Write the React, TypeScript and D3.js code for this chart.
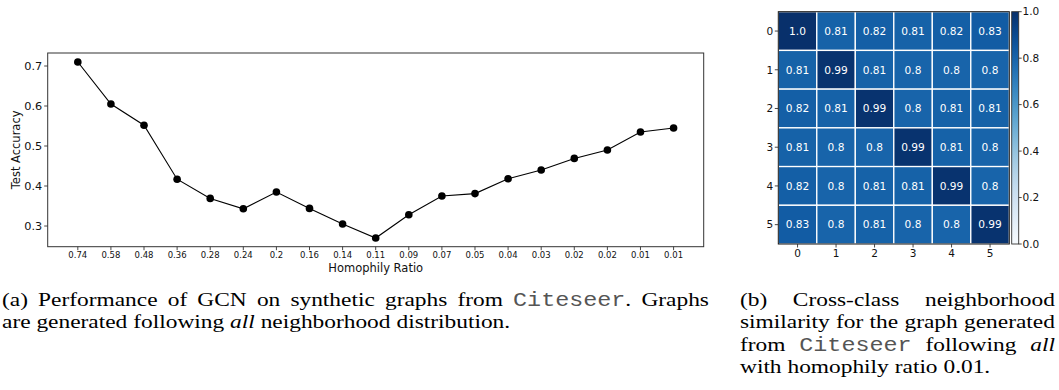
import React, { useEffect, useRef } from "react";
import * as d3 from "d3";

// ---------- data ----------
const homophilyLabels = ["0.74", "0.58", "0.48", "0.36", "0.28", "0.24", "0.2", "0.16", "0.14", "0.11", "0.09", "0.07", "0.05", "0.04", "0.03", "0.02", "0.02", "0.01", "0.01"];
const testAccuracy = [0.71, 0.605, 0.552, 0.417, 0.369, 0.343, 0.385, 0.344, 0.305, 0.27, 0.328, 0.375, 0.381, 0.418, 0.44, 0.469, 0.49, 0.535, 0.545];
const accuracyTicks = [0.3, 0.4, 0.5, 0.6, 0.7];

const classLabels = ["0", "1", "2", "3", "4", "5"];
const similarity = [
  [1.0, 0.81, 0.82, 0.81, 0.82, 0.83],
  [0.81, 0.99, 0.81, 0.8, 0.8, 0.8],
  [0.82, 0.81, 0.99, 0.8, 0.81, 0.81],
  [0.81, 0.8, 0.8, 0.99, 0.81, 0.8],
  [0.82, 0.8, 0.81, 0.81, 0.99, 0.8],
  [0.83, 0.8, 0.81, 0.8, 0.8, 0.99],
];
const colorbarTicks = [0, 0.2, 0.4, 0.6, 0.8, 1.0];

type Run = { t: string; s?: "i" | "m" };
type Word = string | Run[];
const captionALines: Word[][] = [
  ["(a)", "Performance", "of", "GCN", "on", "synthetic", "graphs", "from", [{ t: "Citeseer", s: "m" }, { t: "." }], "Graphs"],
  ["are", "generated", "following", [{ t: "all", s: "i" }], "neighborhood", "distribution."],
];
const captionBLines: Word[][] = [
  ["(b)", "Cross-class", "neighborhood"],
  ["similarity", "for", "the", "graph", "generated"],
  ["from", [{ t: "Citeseer", s: "m" }], "following", [{ t: "all", s: "i" }]],
  ["with", "homophily", "ratio", "0.01."],
];

// ---------- layout ----------
const W = 1059, H = 390;
const LC = { l: 47.7, r: 703.7, t: 53, b: 246.7 };
const HM = { l: 778.3, r: 1009.3, t: 11.7, b: 244 };
const CB = { l: 1011.7, r: 1018.7 };
const SANS = "'DejaVu Sans', sans-serif";
const SERIF = "'Liberation Serif', 'Times New Roman', serif";
const MONO = "'Liberation Mono', 'Courier New', monospace";

const fmt = (v: number) => (Number.isInteger(v) ? v.toFixed(1) : String(v));

export default function App() {
  const capRef = useRef<SVGGElement>(null);

  const x = d3.scalePoint<number>().domain(d3.range(testAccuracy.length)).range([LC.l, LC.r]).padding(0.91);
  const y = d3.scaleLinear().domain([0.2483, 0.7325]).range([LC.b, LC.t]);
  const line = d3.line<number>().x((_, i) => x(i) as number).y((d) => y(d));

  const xb = d3.scaleBand<string>().domain(classLabels).range([HM.l, HM.r]);
  const yb = d3.scaleBand<string>().domain(classLabels).range([HM.t, HM.b]);
  const color = (v: number) => d3.interpolateBlues(v);
  const cbY = d3.scaleLinear().domain([0, 1]).range([HM.b, HM.t]);
  const gradStops = d3.range(0, 1.0001, 0.05);

  useEffect(() => {
    const g = d3.select(capRef.current);
    g.selectAll("*").remove();
    const FS = 19.5, SX = 1.2;
    const paragraphs = [
      { x: 2, width: 707, baselines: [306, 328.3], lines: captionALines },
      { x: 740, width: 315, baselines: [306, 328.3, 350.5, 372.7], lines: captionBLines },
    ];
    paragraphs.forEach((p) => {
      p.lines.forEach((ln, li) => {
        const justify = li < p.lines.length - 1;
        const nodes = ln.map((word) => {
          const runs: Run[] = typeof word === "string" ? [{ t: word }] : word;
          const t = g.append("text").attr("font-size", FS).attr("font-family", SERIF).attr("fill", "#000");
          runs.forEach((r) => {
            const ts = t.append("tspan").text(r.t);
            if (r.s === "i") ts.attr("font-style", "italic");
            if (r.s === "m") ts.attr("font-family", MONO).attr("fill", "#555");
          });
          return t;
        });
        const widths = nodes.map((n) => (n.node() as SVGTextElement).getComputedTextLength() * SX);
        const total = d3.sum(widths);
        const gap = justify ? (p.width - total) / (nodes.length - 1) : FS * 0.25 * SX;
        let cx = p.x;
        nodes.forEach((n, i) => {
          n.attr("transform", `translate(${cx},${p.baselines[li]}) scale(${SX},1)`);
          cx += widths[i] + gap;
        });
      });
    });
  }, []);

  return (
    <div style={{ position: "absolute", left: 0, top: 0 }}>
      <svg width={W} height={H} viewBox={`0 0 ${W} ${H}`} style={{ display: "block", background: "#fff" }}>
        <defs>
          <linearGradient id="cbGrad" x1="0" y1="1" x2="0" y2="0">
            {gradStops.map((s) => (
              <stop key={s} offset={s} stopColor={color(s)} />
            ))}
          </linearGradient>
        </defs>

        {/* ---------- line chart ---------- */}
        <path d={line(testAccuracy) || ""} fill="none" stroke="#000" strokeWidth={1.1} />
        {testAccuracy.map((v, i) => (
          <circle key={i} cx={x(i)} cy={y(v)} r={3.8} fill="#000" />
        ))}
        <rect x={LC.l} y={LC.t} width={LC.r - LC.l} height={LC.b - LC.t} fill="none" stroke="#333" strokeWidth={1} />
        {accuracyTicks.map((t) => (
          <g key={t}>
            <line x1={LC.l - 3.5} x2={LC.l} y1={y(t)} y2={y(t)} stroke="#333" strokeWidth={0.9} />
            <text x={LC.l - 5.5} y={y(t)} dy="0.36em" textAnchor="end" fontFamily={SANS} fontSize={11.3} fill="#111">
              {t.toFixed(1)}
            </text>
          </g>
        ))}
        {homophilyLabels.map((lab, i) => (
          <g key={i}>
            <line x1={x(i)} x2={x(i)} y1={LC.b} y2={LC.b + 3.5} stroke="#333" strokeWidth={0.9} />
            <text x={x(i)} y={258.3} textAnchor="middle" fontFamily={SANS} fontSize={8.5} fill="#111">
              {lab}
            </text>
          </g>
        ))}
        <text x={(LC.l + LC.r) / 2} y={271.5} textAnchor="middle" fontFamily={SANS} fontSize={11.5} fill="#111">
          Homophily Ratio
        </text>
        <text transform={`translate(19.5,${(LC.t + LC.b) / 2}) rotate(-90)`} textAnchor="middle" fontFamily={SANS} fontSize={11.5} fill="#111">
          Test Accuracy
        </text>

        {/* ---------- heatmap ---------- */}
        {similarity.map((row, ri) =>
          row.map((v, ci) => (
            <g key={`${ri}-${ci}`}>
              <rect
                x={xb(classLabels[ci])}
                y={yb(classLabels[ri])}
                width={xb.bandwidth()}
                height={yb.bandwidth()}
                fill={color(v)}
                stroke="#fff"
                strokeWidth={1.3}
              />
              <text
                x={(xb(classLabels[ci]) as number) + xb.bandwidth() / 2}
                y={(yb(classLabels[ri]) as number) + yb.bandwidth() / 2}
                dy="0.36em"
                textAnchor="middle"
                fontFamily={SANS}
                fontSize={10.6}
                fill="#fff"
              >
                {fmt(v)}
              </text>
            </g>
          ))
        )}
        <rect x={HM.l} y={HM.t} width={HM.r - HM.l} height={HM.b - HM.t} fill="none" stroke="#111" strokeWidth={1} />
        {classLabels.map((c) => (
          <g key={`yt${c}`}>
            <line x1={HM.l - 3.5} x2={HM.l} y1={(yb(c) as number) + yb.bandwidth() / 2} y2={(yb(c) as number) + yb.bandwidth() / 2} stroke="#333" strokeWidth={0.9} />
            <text x={HM.l - 5} y={(yb(c) as number) + yb.bandwidth() / 2} dy="0.36em" textAnchor="end" fontFamily={SANS} fontSize={10.5} fill="#111">
              {c}
            </text>
          </g>
        ))}
        {classLabels.map((c) => (
          <g key={`xt${c}`}>
            <line x1={(xb(c) as number) + xb.bandwidth() / 2} x2={(xb(c) as number) + xb.bandwidth() / 2} y1={HM.b} y2={HM.b + 3.5} stroke="#333" strokeWidth={0.9} />
            <text x={(xb(c) as number) + xb.bandwidth() / 2} y={256.5} textAnchor="middle" fontFamily={SANS} fontSize={10.5} fill="#111">
              {c}
            </text>
          </g>
        ))}

        {/* ---------- colorbar ---------- */}
        <rect x={CB.l} y={HM.t} width={CB.r - CB.l} height={HM.b - HM.t} fill="url(#cbGrad)" stroke="#333" strokeWidth={0.9} />
        {colorbarTicks.map((t) => (
          <g key={`cb${t}`}>
            <line x1={CB.r} x2={CB.r + 3} y1={cbY(t)} y2={cbY(t)} stroke="#333" strokeWidth={0.9} />
            <text x={CB.r + 3.8} y={cbY(t)} dy="0.36em" fontFamily={SANS} fontSize={10.5} fill="#111">
              {t.toFixed(1)}
            </text>
          </g>
        ))}

        {/* ---------- captions ---------- */}
        <g ref={capRef} />
      </svg>
    </div>
  );
}
